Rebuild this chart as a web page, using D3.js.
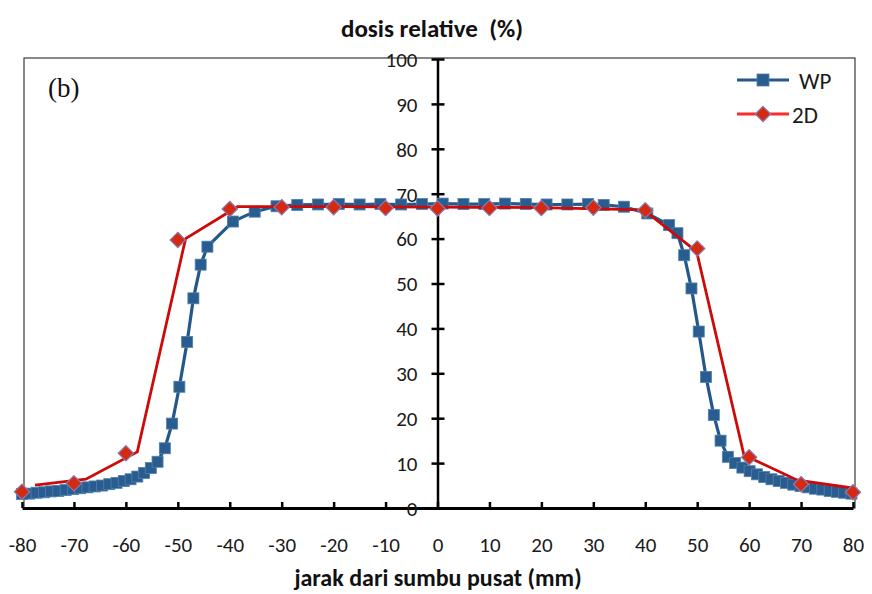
<!DOCTYPE html>
<html>
<head>
<meta charset="utf-8">
<script src="https://cdn.jsdelivr.net/npm/d3@7"></script>
<style>
  html, body { margin: 0; padding: 0; background: #fff; }
  svg { display: block; }
  text { font-family: Carlito, Lato, "Open Sans", sans-serif; }
</style>
</head>
<body>
<svg id="chart" width="872" height="594"></svg>
<script>
// Lateral dose profile: water phantom (WP) vs 2D array measurement
const wpX = [-80.0, -78.6, -77.2, -75.8, -74.4, -73.0, -71.6, -70.2, -68.8, -67.4,
  -66.0, -64.6, -63.2, -61.8, -60.4, -59.1, -57.8, -56.5, -55.2, -53.9,
  -52.5, -51.1, -49.7, -48.2, -47.0, -45.6, -44.3, -39.4, -35.2, -31.0,
  -27.0, -23.0, -19.0, -15.0, -11.0, -7.0, -3.0, 1.0, 5.0, 9.0,
  13.0, 17.0, 21.0, 25.0, 29.0, 32.0, 35.9, 40.4, 44.6, 46.2,
  47.5, 48.9, 50.3, 51.7, 53.2, 54.5, 55.9, 57.3, 58.7, 60.1,
  61.5, 62.9, 64.3, 65.7, 67.1, 68.5, 69.9, 71.3, 72.7, 74.1,
  75.5, 76.9, 78.3, 79.7];
const wpY = [3.1, 3.2, 3.4, 3.5, 3.7, 3.8, 4.0, 4.2, 4.4, 4.6,
  4.8, 5.0, 5.3, 5.6, 6.0, 6.4, 7.0, 7.8, 8.9, 10.3,
  13.3, 18.8, 27.0, 37.0, 46.7, 54.2, 58.2, 63.8, 66.0, 67.2,
  67.5, 67.6, 67.7, 67.6, 67.7, 67.6, 67.7, 67.8, 67.7, 67.7,
  67.8, 67.7, 67.6, 67.6, 67.7, 67.5, 67.1, 65.6, 63.0, 61.2,
  56.3, 48.9, 39.3, 29.2, 20.7, 15.0, 11.4, 10.0, 9.0, 8.2,
  7.5, 6.9, 6.4, 6.0, 5.6, 5.2, 4.9, 4.6, 4.3, 4.1,
  3.8, 3.6, 3.4, 3.2];

// 2D array: measured points (markers)
const d2X = [-80, -70, -60, -50, -40, -30, -20, -10, 0, 10, 20, 30, 40, 50, 60, 70, 80];
const d2Y = [3.6, 5.5, 12.2, 59.7, 66.6, 67.0, 67.0, 66.8, 66.7, 66.8, 66.8, 66.9, 66.3, 57.8, 11.3, 5.3, 3.5];

// 2D array: connecting curve
const d2LineX = [-77.5, -67.7, -57.8, -48.5, -38.5, -20, 0, 20, 39.7, 49.9, 59.0, 69.3, 80.2];
const d2LineY = [5.1, 6.4, 12.5, 60.0, 67.1, 67.1, 67.0, 66.9, 66.4, 57.1, 11.8, 6.2, 4.4];

const xTicks = d3.range(-80, 81, 10);
const yTicks = d3.range(0, 101, 10);

const svg = d3.select("#chart");
const x = d3.scaleLinear().domain([-80, 80]).range([22, 853]);
const y = d3.scaleLinear().domain([0, 100]).range([508, 59]);
const fmt = d => String(d);   // plain hyphen for negatives

// plot area border
svg.append("rect")
  .attr("x", 24).attr("y", 58).attr("width", 831).attr("height", 450)
  .attr("fill", "none").attr("stroke", "#3a3a3a").attr("stroke-width", 1.2);

// x axis along y = 0
const xAxis = svg.append("g")
  .attr("transform", `translate(0,${y(0)})`)
  .call(d3.axisBottom(x).tickValues(xTicks).tickSizeInner(-6).tickSizeOuter(0).tickPadding(0).tickFormat(fmt));
xAxis.select(".domain").attr("stroke", "#000").attr("stroke-width", 3);
xAxis.selectAll(".tick line").attr("stroke", "#000").attr("stroke-width", 2.5);
xAxis.selectAll(".tick text")
  .attr("y", 37).attr("dy", "0.35em")
  .attr("font-size", 21).attr("fill", "#1a1a1a");

// y axis along x = 0
const yAxis = svg.append("g")
  .attr("transform", `translate(${x(0)},0)`)
  .call(d3.axisLeft(y).tickValues(yTicks).tickSizeInner(6).tickSizeOuter(0).tickPadding(0).tickFormat(fmt));
yAxis.select(".domain").attr("stroke", "#000").attr("stroke-width", 2.5);
yAxis.selectAll(".tick line").attr("x1", -6).attr("x2", 7).attr("stroke", "#000").attr("stroke-width", 2.5);
yAxis.selectAll(".tick text")
  .attr("x", -20).attr("dy", "0.35em")
  .attr("font-size", 21).attr("fill", "#1a1a1a");

// WP series
const wp = wpX.map((v, i) => [v, wpY[i]]);
svg.append("path").datum(wp)
  .attr("fill", "none").attr("stroke", "#25588a").attr("stroke-width", 3.2)
  .attr("d", d3.line().x(d => x(d[0])).y(d => y(d[1])));
svg.append("g").selectAll("rect").data(wp).join("rect")
  .attr("x", d => x(d[0]) - 5.5).attr("y", d => y(d[1]) - 5.5)
  .attr("width", 11).attr("height", 11)
  .attr("fill", "#2a5d8f").attr("stroke", "#4f7fae").attr("stroke-width", 0.8);

// 2D series
const d2Line = d2LineX.map((v, i) => [v, d2LineY[i]]);
const d2 = d2X.map((v, i) => [v, d2Y[i]]);
svg.append("path").datum(d2Line)
  .attr("fill", "none").attr("stroke", "#cc0a0a").attr("stroke-width", 2.8)
  .attr("d", d3.line().x(d => x(d[0])).y(d => y(d[1])));
const diamond = d3.symbol().type(d3.symbolDiamond2).size(150);
svg.append("g").selectAll("path").data(d2).join("path")
  .attr("transform", d => `translate(${x(d[0])},${y(d[1])})`)
  .attr("d", diamond)
  .attr("fill", "#d42a12").attr("stroke", "#8a7ab0").attr("stroke-width", 1.2);

// legend
const lg = svg.append("g");
lg.append("line").attr("x1", 737).attr("x2", 789).attr("y1", 80).attr("y2", 80)
  .attr("stroke", "#25588a").attr("stroke-width", 3.2);
lg.append("rect").attr("x", 757).attr("y", 74).attr("width", 12).attr("height", 12)
  .attr("fill", "#2a5d8f").attr("stroke", "#4f7fae").attr("stroke-width", 0.8);
lg.append("text").attr("x", 799).attr("y", 81).attr("dy", "0.35em")
  .attr("font-size", 23).attr("fill", "#1a1a1a").text("WP");
lg.append("line").attr("x1", 737).attr("x2", 789).attr("y1", 114).attr("y2", 114)
  .attr("stroke", "#ff2a2a").attr("stroke-width", 3);
lg.append("path").attr("transform", "translate(763,114)").attr("d", diamond)
  .attr("fill", "#d42a12").attr("stroke", "#8a7ab0").attr("stroke-width", 1.2);
lg.append("text").attr("x", 792).attr("y", 115).attr("dy", "0.35em")
  .attr("font-size", 23).attr("fill", "#1a1a1a").text("2D");

// panel label
svg.append("text").attr("x", 48).attr("y", 97)
  .style("font-family", "'Liberation Serif', 'DejaVu Serif', serif")
  .attr("font-size", 27).attr("fill", "#111").text("(b)");

// titles
svg.append("text").attr("x", 432).attr("y", 28).attr("dy", "0.35em")
  .attr("text-anchor", "middle").attr("font-size", 25).attr("font-weight", "bold")
  .attr("fill", "#111").style("white-space", "pre")
  .text("dosis relative  (%)");
svg.append("text").attr("x", 438).attr("y", 578).attr("dy", "0.35em")
  .attr("text-anchor", "middle").attr("font-size", 24).attr("font-weight", "bold")
  .attr("fill", "#111").text("jarak dari sumbu pusat (mm)");
</script>
</body>
</html>
